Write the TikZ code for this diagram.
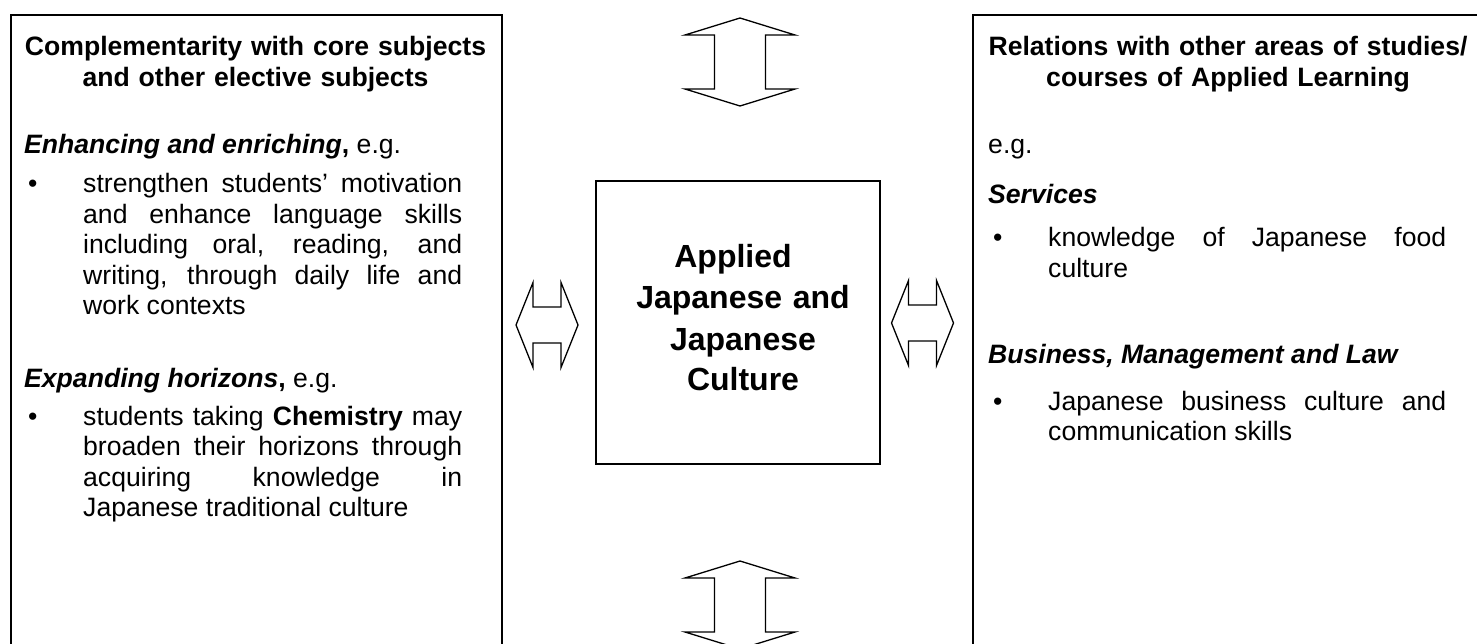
\documentclass[tikz,border=0pt]{standalone}
\usepackage{fontspec}
\setmainfont{Liberation Sans}
\newcommand{\bodysize}{\fontsize{26.6pt}{30.5pt}\selectfont}
\newcommand{\titlesize}{\fontsize{32pt}{41pt}\selectfont}
\tikzset{
  panel/.style={draw, line width=2pt, anchor=north west, inner sep=0pt},
  heading/.style={anchor=base, text width=500pt, align=center, inner sep=0pt, font=\bfseries\bodysize},
  subhead/.style={anchor=base west, inner sep=0pt, font=\bodysize},
  dot/.style={anchor=base west, inner sep=0pt, font=\bodysize},
  bodytext/.style={anchor=base west, inner sep=0pt, align=justify, font=\bodysize},
  vdarrow/.pic={\draw[line width=1.3pt] (0,-44) -- (55,-27) -- (25.5,-27) -- (25.5,27) -- (55,27) -- (0,44) -- (-55,27) -- (-25.5,27) -- (-25.5,-27) -- (-55,-27) -- cycle;},
  hdarrow/.pic={\draw[line width=1.3pt] (-31,0) -- (-14,-42.5) -- (-14,-18) -- (14,-18) -- (14,-42.5) -- (31,0) -- (14,42.5) -- (14,18) -- (-14,18) -- (-14,42.5) -- cycle;}
}
\begin{document}
\begin{tikzpicture}[x=1pt, y=-1pt]
            \useasboundingbox (0,0) rectangle (1477,644);

            \node[panel, minimum width=491pt, minimum height=660pt] (comp) at (10,14) {};
            \node[panel, minimum width=284pt, minimum height=283pt] (ajjc) at (595,180) {};
            \node[panel, minimum width=512pt, minimum height=660pt] (rel) at (972,14) {};

            \pic at (740,62) {vdarrow};
            \pic at (740,605) {vdarrow};
            \pic at (547,325) {hdarrow};
            \pic at (922.5,323) {hdarrow};

            \node[font=\bfseries\titlesize, text width=284pt, align=center, anchor=base, inner sep=0pt] (ajjctext) at (743,268) {Applied\kern20pt\\Japanese and\\Japanese\\Culture};

            \node[heading] (comphead) at (255.5,56) {Complementarity with core subjects\\and other elective subjects};
            \node[subhead] (enrich) at (24,154) {\textbf{\textit{Enhancing and enriching},} e.g.};
            \node[dot] (enrichdot) at (28,193) {\textbullet};
            \node[bodytext, text width=379pt] (enrichtext) at (83,193) {strengthen students' motivation\linebreak and enhance language skills\linebreak including oral, reading, and\linebreak writing, through daily life and\linebreak work contexts};
            \node[subhead] (expand) at (24,387) {\textbf{\textit{Expanding horizons},} e.g.};
            \node[dot] (expanddot) at (28,425) {\textbullet};
            \node[bodytext, text width=379pt] (expandtext) at (83,425) {students taking \textbf{Chemistry} may\linebreak broaden their horizons through\linebreak acquiring knowledge in\linebreak Japanese traditional culture};

            \node[heading] (relhead) at (1228,56) {Relations with other areas of studies/\\courses of Applied Learning};
            \node[subhead] (releg) at (988,154) {e.g.};
            \node[subhead] (serv) at (988,204) {\textbf{\textit{Services}}};
            \node[dot] (servdot) at (993,247) {\textbullet};
            \node[bodytext, text width=398pt] (servtext) at (1048,247) {knowledge of Japanese food\linebreak culture};
            \node[subhead] (bml) at (988,363) {\textbf{\textit{Business, Management and Law}}};
            \node[dot] (bmldot) at (993,410) {\textbullet};
            \node[bodytext, text width=398pt] (bmltext) at (1048,410) {Japanese business culture and\linebreak communication skills};
        \end{tikzpicture}
\end{document}
